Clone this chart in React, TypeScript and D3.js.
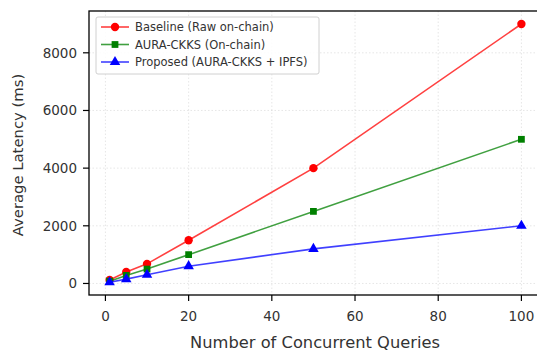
import { useEffect, useRef } from 'react';
import * as d3 from 'd3';

const QUERIES = [1, 5, 10, 20, 50, 100];
const BASELINE = [120, 400, 680, 1500, 4000, 9000];
const AURA_ONCHAIN = [80, 280, 500, 1000, 2500, 5000];
const PROPOSED = [40, 150, 300, 600, 1200, 2000];
const X_TICKS = [0, 20, 40, 60, 80, 100];
const Y_TICKS = [0, 2000, 4000, 6000, 8000];

type Series = {
  label: string;
  values: number[];
  color: string;
  marker: 'circle' | 'square' | 'triangle';
};

const SERIES: Series[] = [
  { label: 'Baseline (Raw on-chain)', values: BASELINE, color: '#ff0000', marker: 'circle' },
  { label: 'AURA-CKKS (On-chain)', values: AURA_ONCHAIN, color: '#008000', marker: 'square' },
  { label: 'Proposed (AURA-CKKS + IPFS)', values: PROPOSED, color: '#0000ff', marker: 'triangle' },
];

const W = 537;
const H = 354;
const PLOT = { left: 89, right: 542, top: 11, bottom: 295 };
const FONT = '"DejaVu Sans", sans-serif';

function markerSymbol(m: Series['marker']) {
  if (m === 'circle') return d3.symbol(d3.symbolCircle, 55);
  if (m === 'square') return d3.symbol(d3.symbolSquare, 46);
  return d3.symbol(d3.symbolTriangle, 48);
}

export default function App() {
  const ref = useRef<SVGSVGElement | null>(null);

  useEffect(() => {
    if (!ref.current) return;
    const svg = d3.select(ref.current);
    svg.selectAll('*').remove();

    const x = d3.scaleLinear().domain([-3.95, 104.95]).range([PLOT.left, PLOT.right]);
    const y = d3.scaleLinear().domain([-400, 9450]).range([PLOT.bottom, PLOT.top]);

    svg.append('rect').attr('width', W).attr('height', H).attr('fill', '#ffffff');

    // grid
    const grid = svg.append('g').attr('stroke', '#b0b0b0').attr('stroke-opacity', 0.4)
      .attr('stroke-width', 0.8).attr('stroke-dasharray', '1.5 2');
    X_TICKS.forEach((t) => {
      grid.append('line').attr('x1', x(t)).attr('x2', x(t)).attr('y1', PLOT.top).attr('y2', PLOT.bottom);
    });
    Y_TICKS.forEach((t) => {
      grid.append('line').attr('x1', PLOT.left).attr('x2', PLOT.right).attr('y1', y(t)).attr('y2', y(t));
    });

    // series
    for (const s of SERIES) {
      const line = d3.line<number>().x((_, i) => x(QUERIES[i])).y((d) => y(d));
      svg.append('path')
        .datum(s.values)
        .attr('fill', 'none')
        .attr('stroke', s.color)
        .attr('stroke-opacity', 0.75)
        .attr('stroke-width', 1.6)
        .attr('d', line);
      const sym = markerSymbol(s.marker);
      svg.append('g').selectAll('path')
        .data(s.values)
        .join('path')
        .attr('transform', (d, i) => `translate(${x(QUERIES[i])},${y(d)})`)
        .attr('d', sym() as string)
        .attr('fill', s.color);
    }

    // frame
    svg.append('rect')
      .attr('x', PLOT.left).attr('y', PLOT.top)
      .attr('width', PLOT.right - PLOT.left).attr('height', PLOT.bottom - PLOT.top)
      .attr('fill', 'none').attr('stroke', '#000').attr('stroke-width', 1.3);

    // axes ticks
    const xAxis = svg.append('g').attr('font-family', FONT).attr('font-size', 13.5).attr('fill', '#333');
    X_TICKS.forEach((t) => {
      xAxis.append('line').attr('x1', x(t)).attr('x2', x(t)).attr('y1', PLOT.bottom).attr('y2', PLOT.bottom + 6)
        .attr('stroke', '#000').attr('stroke-width', 1.2);
      xAxis.append('text').attr('x', x(t)).attr('y', PLOT.bottom + 26).attr('text-anchor', 'middle').text(String(t));
    });
    const yAxis = svg.append('g').attr('font-family', FONT).attr('font-size', 13.5).attr('fill', '#333');
    Y_TICKS.forEach((t) => {
      yAxis.append('line').attr('x1', PLOT.left - 6).attr('x2', PLOT.left).attr('y1', y(t)).attr('y2', y(t))
        .attr('stroke', '#000').attr('stroke-width', 1.2);
      yAxis.append('text').attr('x', PLOT.left - 12).attr('y', y(t)).attr('dy', '0.36em')
        .attr('text-anchor', 'end').text(String(t));
    });

    svg.append('text')
      .attr('x', 315).attr('y', 348)
      .attr('text-anchor', 'middle').attr('font-family', FONT).attr('font-size', 16.3).attr('fill', '#333')
      .text('Number of Concurrent Queries');
    svg.append('text')
      .attr('transform', 'translate(23,155) rotate(-90)')
      .attr('text-anchor', 'middle').attr('font-family', FONT).attr('font-size', 14.8).attr('fill', '#333')
      .text('Average Latency (ms)');

    // legend
    const lg = svg.append('g').attr('transform', 'translate(96,17)');
    lg.append('rect').attr('width', 223).attr('height', 57).attr('rx', 2)
      .attr('fill', '#fff').attr('fill-opacity', 0.85).attr('stroke', '#d0d0d0').attr('stroke-width', 1);
    SERIES.forEach((s, i) => {
      const cy = 10 + i * 17.5;
      lg.append('line').attr('x1', 5).attr('x2', 33).attr('y1', cy).attr('y2', cy)
        .attr('stroke', s.color).attr('stroke-opacity', 0.75).attr('stroke-width', 1.6);
      lg.append('path').attr('transform', `translate(19,${cy})`)
        .attr('d', markerSymbol(s.marker)() as string).attr('fill', s.color);
      lg.append('text').attr('x', 39).attr('y', cy).attr('dy', '0.35em')
        .attr('font-family', FONT).attr('font-size', 11.5).attr('fill', '#333').text(s.label);
    });
  }, []);

  return (
    <div style={{ position: 'fixed', left: 0, top: 0 }}>
      <svg ref={ref} width={W} height={H} style={{ display: 'block' }} />
    </div>
  );
}
